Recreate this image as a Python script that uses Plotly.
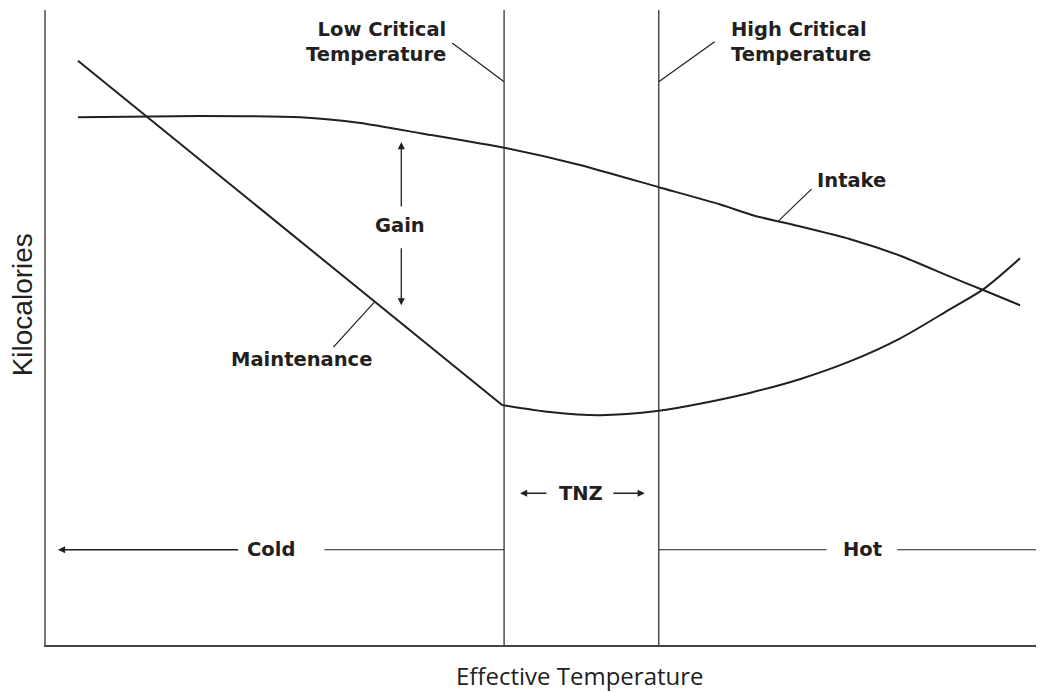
import plotly.graph_objects as go

# ---- data (arbitrary units: temperature 0-100, kilocalories 0-100) ----
intake_temp = [3.2, 15.4, 25.5, 31.5, 37.5, 45.9, 53.5, 61.4, 67.5, 71.0, 75.6, 80.6, 85.6, 90.6, 93.9, 97.6]
intake_kcal = [83.1, 83.3, 83.1, 82.2, 80.6, 78.3, 75.6, 72.1, 69.4, 67.6, 65.9, 63.9, 61.3, 58.0, 55.9, 53.5]

maint_cold_temp = [3.2, 45.7]
maint_cold_kcal = [92.0, 37.8]
maint_warm_temp = [45.7, 50.5, 55.5, 61.4, 65.5, 70.5, 75.6, 80.6, 85.6, 90.6, 93.9, 97.6]
maint_warm_kcal = [37.8, 36.7, 36.2, 36.9, 38.0, 39.7, 41.9, 44.7, 48.3, 52.9, 56.0, 60.9]

critical_temps = [45.9, 61.4]
critical_names = ["Low Critical<br>Temperature", "High Critical<br>Temperature"]

INK = "#231f20"
BOLD = "DejaVu Sans"
fig = go.Figure()

fig.add_trace(go.Scatter(x=intake_temp, y=intake_kcal, mode="lines",
                         line=dict(color=INK, width=2, shape="spline", smoothing=0.55),
                         showlegend=False, hoverinfo="skip"))
fig.add_trace(go.Scatter(x=maint_cold_temp, y=maint_cold_kcal, mode="lines",
                         line=dict(color=INK, width=2), showlegend=False, hoverinfo="skip"))
fig.add_trace(go.Scatter(x=maint_warm_temp, y=maint_warm_kcal, mode="lines",
                         line=dict(color=INK, width=2, shape="spline", smoothing=0.8),
                         showlegend=False, hoverinfo="skip"))

# critical temperature vertical lines
for t in critical_temps:
    fig.add_shape(type="line", x0=t, x1=t, y0=0, y1=1, xref="x", yref="paper",
                  line=dict(color="#333333", width=1.3))

def seg(x0, y0, x1, y1, w=1.2):
    fig.add_shape(type="line", x0=x0, y0=y0, x1=x1, y1=y1, xref="x", yref="y",
                  line=dict(color=INK, width=w))

def arrow(x_head, y_head, x_tail, y_tail):
    fig.add_annotation(x=x_head, y=y_head, ax=x_tail, ay=y_tail, xref="x", yref="y",
                       axref="x", ayref="y", text="", showarrow=True,
                       arrowhead=2, arrowsize=1.1, arrowwidth=1.3, arrowcolor=INK)

def label(x, y, text, xanchor="center", align="center", size=19.5):
    fig.add_annotation(x=x, y=y, xref="x", yref="y", text="<b>" + text + "</b>",
                       showarrow=False, xanchor=xanchor, yanchor="middle", align=align,
                       font=dict(family=BOLD, size=size, color=INK))

# leader lines
seg(40.7, 94.8, critical_temps[0], 88.7)
seg(critical_temps[1], 88.7, 67.0, 95.0)
seg(73.4, 66.8, 76.7, 71.8)
seg(28.8, 46.9, 32.9, 54.0)

label(40.3, 95.0, critical_names[0], xanchor="right", align="right")
label(68.4, 95.0, critical_names[1], xanchor="left", align="left")
label(80.7, 73.1, "Intake")
label(25.6, 44.9, "Maintenance")
label(35.5, 66.0, "Gain")

# Gain arrows
arrow(35.6, 79.2, 35.6, 68.8)
arrow(35.6, 53.5, 35.6, 62.7)

# Cold / Hot / TNZ
arrow(1.2, 15.0, 19.4, 15.0)
seg(27.9, 15.0, 45.9, 15.0)
label(22.5, 15.0, "Cold")
seg(61.4, 15.0, 78.2, 15.0)
label(81.8, 15.0, "Hot")
seg(85.3, 15.0, 100, 15.0)
arrow(47.5, 23.9, 50.3, 23.9)
label(53.6, 23.9, "TNZ")
arrow(60.0, 23.9, 56.7, 23.9)

# axis titles
fig.add_annotation(x=0.535, y=-0.048, xref="paper", yref="paper", text="Effective Temperature",
                   showarrow=False, xanchor="center", yanchor="middle",
                   font=dict(family="Open Sans", size=24, color=INK))
fig.add_annotation(x=-0.024, y=0.535, xref="paper", yref="paper", text="Kilocalories",
                   showarrow=False, textangle=-90, xanchor="center", yanchor="middle",
                   font=dict(family="Liberation Sans", size=28, color=INK))

fig.update_xaxes(range=[0, 100], showgrid=False, zeroline=False, showticklabels=False,
                 ticks="", showline=True, linecolor="#444444", linewidth=1.5)
fig.update_yaxes(range=[0, 100], showgrid=False, zeroline=False, showticklabels=False,
                 ticks="", showline=True, linecolor="#777777", linewidth=1.5)
# page body has an 8px margin: offset the figure so the plot area lands where the reference has it
fig.update_layout(width=1036, height=684, margin=dict(l=38, r=0, t=2, b=47),
                  plot_bgcolor="white", paper_bgcolor="white")

fig.write_html("out.html")
